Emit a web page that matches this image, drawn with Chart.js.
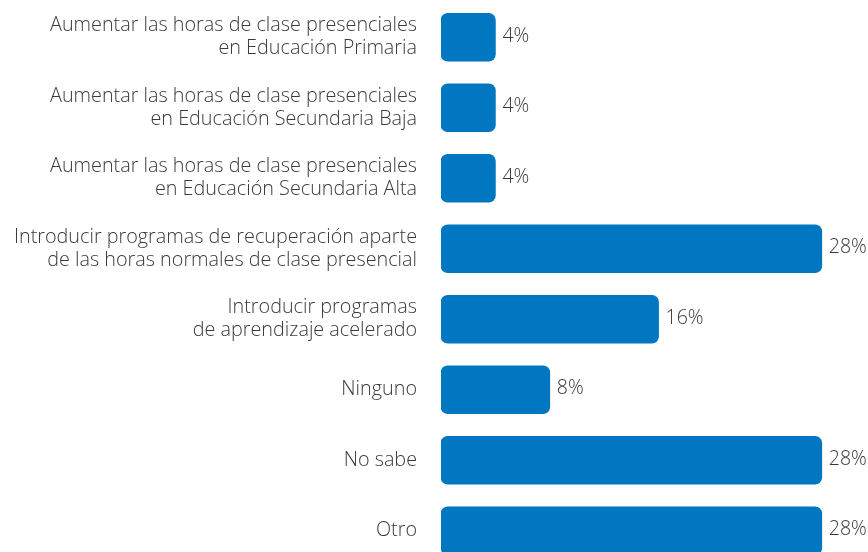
<!DOCTYPE html>
<html>
<head>
<meta charset="utf-8">
<script src="https://cdn.jsdelivr.net/npm/chart.js@4.4.1/dist/chart.umd.min.js"></script>
<style>
  html, body { margin: 0; padding: 0; background: #fff; overflow: hidden; }
  #wrap { width: 868px; height: 568px; }
</style>
</head>
<body>
<div id="wrap"><canvas id="chart" width="868" height="568"></canvas></div>
<script>
// --- data ---
const categories = [
    ['Aumentar las horas de clase presenciales', 'en Educación Primaria'],
    ['Aumentar las horas de clase presenciales', 'en Educación Secundaria Baja'],
    ['Aumentar las horas de clase presenciales', 'en Educación Secundaria Alta'],
    ['Introducir programas de recuperación aparte', 'de las horas normales de clase presencial'],
    ['Introducir programas', 'de aprendizaje acelerado'],
    'Ninguno',
    'No sabe',
    'Otro'
];
const values = [4, 4, 4, 28, 16, 8, 28, 28];

const BAR_COLOR = '#0077c0';
const TEXT_COLOR = '#3a3a3a';
const FONT = "'Open Sans', 'Noto Sans', sans-serif";

// value labels to the right of each bar
const valueLabels = {
    id: 'valueLabels',
    afterDatasetsDraw(chart) {
        const ctx = chart.ctx;
        const meta = chart.getDatasetMeta(0);
        ctx.save();
        ctx.font = '300 19.5px ' + FONT;
        ctx.fillStyle = TEXT_COLOR;
        ctx.textAlign = 'left';
        ctx.textBaseline = 'middle';
        meta.data.forEach((bar, i) => {
            ctx.fillText(values[i] + '%', bar.x + 7, bar.y - 1);
        });
        ctx.restore();
    }
};

new Chart(document.getElementById('chart'), {
    type: 'bar',
    data: {
        labels: categories,
        datasets: [{
            data: values,
            backgroundColor: BAR_COLOR,
            borderRadius: 7,
            borderSkipped: false,
            barThickness: 48
        }]
    },
    options: {
        indexAxis: 'y',
        responsive: false,
        animation: false,
        layout: { padding: { top: 2, bottom: 2, left: 0, right: 19 } },
        plugins: { legend: { display: false }, tooltip: { enabled: false } },
        scales: {
            x: {
                display: false,
                min: 0,
                max: 30
            },
            y: {
                afterFit(scale) {
                    // fixed label column, no extra padding from the multi-line labels
                    scale.width = 441;
                    scale.paddingTop = 0;
                    scale.paddingBottom = 0;
                },
                border: { display: false },
                grid: { display: false, drawTicks: false },
                ticks: {
                    padding: 24,
                    color: TEXT_COLOR,
                    font: { family: FONT, size: 19.8, weight: '300', lineHeight: 1.17 }
                }
            }
        }
    },
    plugins: [valueLabels]
});
</script>
</body>
</html>
